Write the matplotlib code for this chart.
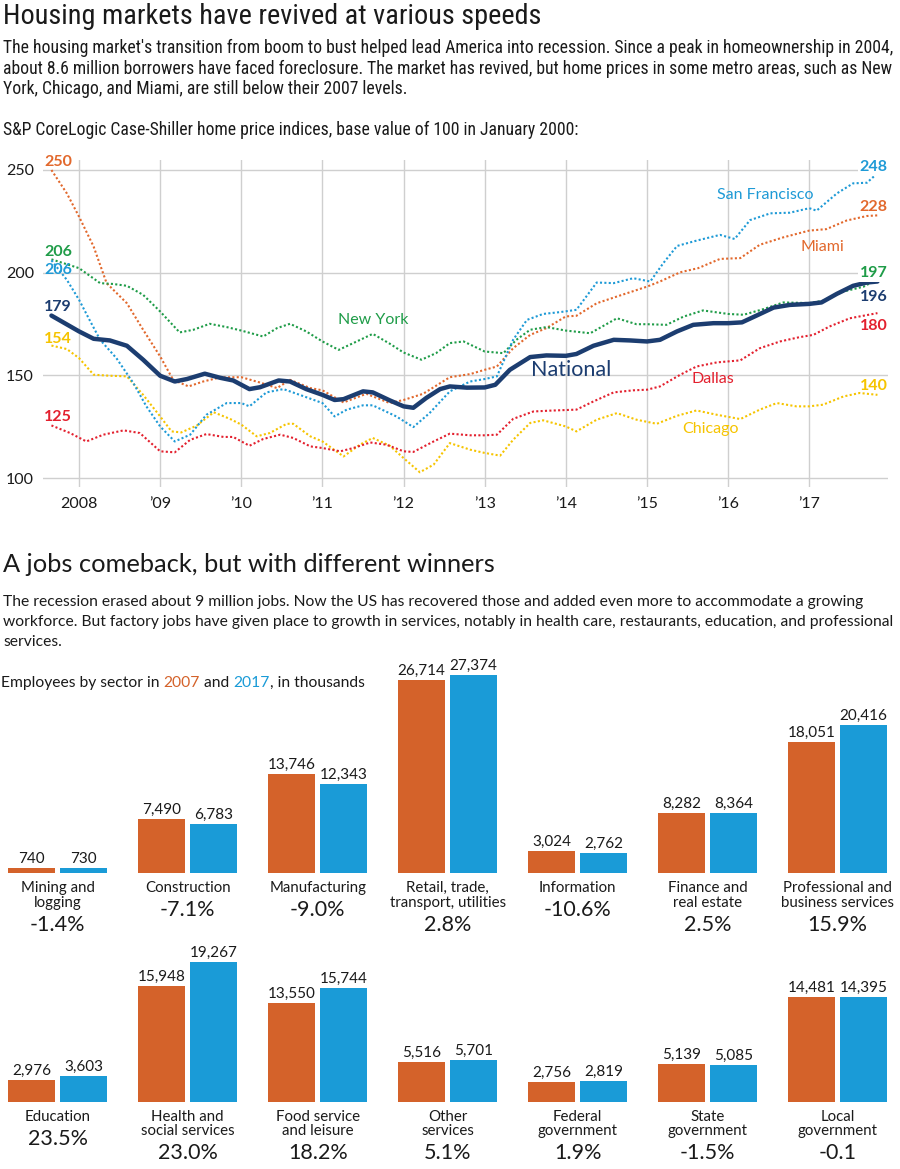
import numpy as np
import matplotlib
matplotlib.use('Agg')
import matplotlib.pyplot as plt
from matplotlib import font_manager

# ---------------- data: home price indices (year, index) ----------------
national = [(2007.66, 179.1), (2008.0, 171.4), (2008.18, 167.8), (2008.38, 167.0), (2008.59, 164.4),
            (2008.79, 157.6), (2009.0, 149.8), (2009.18, 147.0), (2009.33, 148.2), (2009.55, 150.8),
            (2009.74, 148.8), (2009.9, 147.5), (2010.1, 143.3), (2010.23, 144.2), (2010.46, 147.5),
            (2010.6, 147.0), (2010.8, 143.3), (2011.0, 140.5), (2011.15, 138.0), (2011.26, 138.4),
            (2011.5, 142.2), (2011.62, 141.7), (2011.83, 137.8), (2012.0, 134.9), (2012.12, 134.2),
            (2012.28, 139.0), (2012.45, 143.3), (2012.57, 144.6), (2012.78, 144.0), (2013.0, 144.1),
            (2013.13, 145.4), (2013.31, 152.7), (2013.56, 158.9), (2013.76, 159.7), (2014.0, 159.5),
            (2014.13, 160.4), (2014.34, 164.4), (2014.59, 167.3), (2014.79, 167.0), (2015.0, 166.5),
            (2015.16, 167.3), (2015.37, 171.4), (2015.57, 174.6), (2015.82, 175.4), (2016.0, 175.4),
            (2016.17, 175.8), (2016.35, 179.1), (2016.56, 183.0), (2016.76, 184.3), (2017.0, 184.8),
            (2017.15, 185.5), (2017.34, 189.7), (2017.54, 193.6), (2017.71, 195.2), (2017.84, 195.7)]

new_york = [(2007.66, 206.5), (2008.0, 202.2), (2008.26, 194.9), (2008.42, 194.5), (2008.59, 193.6),
            (2008.79, 189.2), (2009.0, 181.1), (2009.24, 170.9), (2009.41, 172.2), (2009.61, 175.1),
            (2009.82, 173.5), (2010.0, 171.8), (2010.27, 168.9), (2010.44, 173.0), (2010.6, 175.1),
            (2010.8, 171.4), (2011.0, 166.5), (2011.2, 162.4), (2011.38, 165.7), (2011.62, 170.2),
            (2011.83, 165.4), (2012.0, 161.1), (2012.22, 157.6), (2012.4, 160.8), (2012.57, 165.7),
            (2012.74, 166.5), (2013.0, 161.6), (2013.23, 160.8), (2013.39, 167.3), (2013.56, 172.2),
            (2013.76, 173.5), (2014.0, 171.8), (2014.3, 170.5), (2014.63, 177.8), (2014.87, 174.9),
            (2015.0, 174.9), (2015.24, 174.6), (2015.45, 178.6), (2015.69, 181.6), (2016.0, 179.9),
            (2016.19, 179.5), (2016.43, 182.2), (2016.68, 185.5), (2017.0, 185.2), (2017.17, 186.3),
            (2017.42, 190.8), (2017.67, 193.2), (2017.84, 196.8)]

san_francisco = [(2007.66, 206.0), (2007.85, 196.5), (2008.0, 186.8), (2008.14, 176.2), (2008.26, 167.3),
                 (2008.46, 158.4), (2008.67, 146.2), (2008.83, 134.9), (2009.0, 125.1), (2009.18, 117.8),
                 (2009.37, 121.1), (2009.57, 130.8), (2009.82, 136.5), (2010.0, 136.5), (2010.1, 134.9),
                 (2010.31, 141.7), (2010.52, 143.3), (2010.72, 140.5), (2011.0, 136.5), (2011.15, 130.0),
                 (2011.3, 133.3), (2011.5, 135.4), (2011.62, 135.4), (2011.91, 130.0), (2012.12, 124.8),
                 (2012.32, 131.6), (2012.57, 142.2), (2012.82, 147.0), (2013.0, 148.2), (2013.15, 149.5),
                 (2013.35, 167.3), (2013.52, 177.0), (2013.72, 179.9), (2013.93, 180.8), (2014.13, 181.9),
                 (2014.38, 195.2), (2014.59, 194.9), (2014.83, 197.3), (2015.04, 195.7), (2015.2, 204.6),
                 (2015.37, 213.0), (2015.61, 215.6), (2015.9, 218.4), (2016.08, 216.4), (2016.27, 225.6),
                 (2016.52, 228.9), (2016.76, 229.2), (2017.0, 231.4), (2017.09, 230.2), (2017.34, 238.6),
                 (2017.54, 243.5), (2017.71, 243.8), (2017.84, 248.4)]

miami = [(2007.66, 250.0), (2007.85, 238.6), (2008.0, 227.3), (2008.18, 212.7), (2008.34, 194.9),
         (2008.59, 185.1), (2008.79, 172.2), (2009.0, 159.2), (2009.16, 147.8), (2009.35, 144.6),
         (2009.53, 147.0), (2009.74, 149.0), (2010.0, 149.1), (2010.23, 146.5), (2010.44, 143.8),
         (2010.6, 147.8), (2010.85, 143.8), (2011.0, 142.7), (2011.26, 136.8), (2011.54, 141.0),
         (2011.83, 136.5), (2012.0, 138.0), (2012.24, 141.0), (2012.57, 149.1), (2012.82, 150.6),
         (2013.0, 152.7), (2013.15, 154.3), (2013.35, 163.2), (2013.56, 169.7), (2013.76, 173.0),
         (2014.0, 178.7), (2014.13, 179.0), (2014.38, 185.1), (2014.63, 188.4), (2015.0, 193.2),
         (2015.16, 195.7), (2015.41, 200.2), (2015.63, 202.2), (2015.9, 206.7), (2016.15, 207.1),
         (2016.39, 213.6), (2016.68, 217.2), (2017.0, 220.5), (2017.21, 221.2), (2017.46, 225.4),
         (2017.71, 227.6), (2017.84, 227.9)]

dallas = [(2007.66, 125.6), (2007.89, 121.9), (2008.09, 117.8), (2008.3, 121.1), (2008.55, 123.2),
          (2008.75, 121.9), (2009.0, 113.0), (2009.18, 112.5), (2009.37, 118.6), (2009.57, 121.4),
          (2009.78, 120.0), (2009.9, 120.0), (2010.1, 115.7), (2010.27, 119.0), (2010.48, 121.1),
          (2010.64, 119.5), (2010.85, 115.4), (2011.0, 114.6), (2011.22, 113.0), (2011.38, 114.6),
          (2011.59, 117.3), (2011.79, 116.2), (2012.0, 113.0), (2012.12, 112.7), (2012.37, 117.8),
          (2012.57, 121.6), (2012.82, 120.8), (2013.0, 120.8), (2013.15, 121.1), (2013.35, 128.8),
          (2013.6, 132.4), (2013.8, 132.8), (2014.13, 133.3), (2014.34, 137.3), (2014.59, 141.7),
          (2014.83, 142.7), (2015.0, 143.0), (2015.16, 144.6), (2015.41, 150.3), (2015.61, 154.3),
          (2015.86, 156.3), (2016.15, 157.3), (2016.39, 163.2), (2016.64, 166.5), (2016.88, 168.6),
          (2017.05, 169.7), (2017.25, 173.8), (2017.5, 177.8), (2017.84, 180.3)]

chicago = [(2007.66, 164.5), (2007.85, 162.8), (2008.0, 158.4), (2008.18, 150.3), (2008.38, 149.8),
           (2008.59, 149.5), (2008.79, 140.5), (2009.0, 130.0), (2009.14, 122.7), (2009.26, 122.2),
           (2009.45, 125.5), (2009.66, 132.0), (2009.86, 128.8), (2010.0, 126.0), (2010.19, 120.3),
           (2010.35, 121.9), (2010.56, 126.4), (2010.64, 126.4), (2010.85, 120.3), (2011.0, 117.8),
           (2011.26, 110.5), (2011.46, 116.2), (2011.62, 119.5), (2011.83, 115.7), (2012.0, 109.7),
           (2012.2, 102.8), (2012.37, 106.5), (2012.57, 117.0), (2012.82, 113.8), (2013.0, 112.2),
           (2013.19, 110.9), (2013.35, 118.6), (2013.56, 126.8), (2013.72, 128.1), (2014.0, 125.1),
           (2014.13, 122.7), (2014.38, 128.4), (2014.63, 131.6), (2014.87, 128.4), (2015.12, 126.4),
           (2015.37, 130.3), (2015.61, 132.9), (2015.86, 130.8), (2016.15, 128.7), (2016.39, 133.3),
           (2016.6, 136.5), (2016.84, 134.9), (2017.0, 134.9), (2017.17, 135.7), (2017.42, 139.7),
           (2017.62, 141.4), (2017.84, 140.5)]

year_ticks = [2008, 2009, 2010, 2011, 2012, 2013, 2014, 2015, 2016, 2017]
year_labels = ['2008', '’09', '’10', '’11', '’12', '’13', '’14', '’15', '’16', '’17']
index_ticks = [100, 150, 200, 250]

# ---------------- data: employees by sector (thousands) ----------------
sectors_top = ['Mining and\nlogging', 'Construction', 'Manufacturing', 'Retail, trade,\ntransport, utilities',
               'Information', 'Finance and\nreal estate', 'Professional and\nbusiness services']
jobs2007_top = [740, 7490, 13746, 26714, 3024, 8282, 18051]
jobs2017_top = [730, 6783, 12343, 27374, 2762, 8364, 20416]
change_top = ['-1.4%', '-7.1%', '-9.0%', '2.8%', '-10.6%', '2.5%', '15.9%']

sectors_bottom = ['Education', 'Health and\nsocial services', 'Food service\nand leisure', 'Other\nservices',
                  'Federal\ngovernment', 'State\ngovernment', 'Local\ngovernment']
jobs2007_bottom = [2976, 15948, 13550, 5516, 2756, 5139, 14481]
jobs2017_bottom = [3603, 19267, 15744, 5701, 2819, 5085, 14395]
change_bottom = ['23.5%', '23.0%', '18.2%', '5.1%', '1.9%', '-1.5%', '-0.1']

# ---------------- style ----------------
NAVY = '#1c3d70'
GREEN = '#1f9c48'
BLUE = '#1e9ad6'
ORANGE = '#e2682c'
RED = '#e3202e'
YELLOW = '#f6c400'
BAR_ORANGE = '#d4622a'
BAR_BLUE = '#1a9bd7'
INK = '#1a1a1a'

installed = {f.name for f in font_manager.fontManager.ttflist}
NARROW = next((n for n in ['Liberation Sans Narrow', 'Roboto Condensed', 'Open Sans Condensed']
               if n in installed), 'Liberation Sans')
plt.rcParams['font.family'] = ['Lato', 'DejaVu Sans']

W, H = 900, 1169
fig = plt.figure(figsize=(9, 11.69), dpi=100)
renderer = fig.canvas.get_renderer()


def fx(x):
    return x / W


def fy(y):
    return 1 - y / H


def fit(t, width):
    # scale a text so that it spans the given width in pixels
    w = t.get_window_extent(renderer).width
    t.set_fontsize(t.get_fontsize() * width / w)
    return t.get_fontsize()


def text_width(s, **kw):
    t = fig.text(0, 0, s + '|', **kw)
    bar = fig.text(0, 0, '|', **kw)
    w = t.get_window_extent(renderer).width - bar.get_window_extent(renderer).width
    t.remove()
    bar.remove()
    return w


# ---------------- top texts ----------------
t = fig.text(fx(3), fy(17), 'Housing markets have revived at various speeds', family=NARROW,
             fontsize=18, color=INK, va='center')
fit(t, 540)
body = ["The housing market's transition from boom to bust helped lead America into recession. "
        "Since a peak in homeownership in 2004,",
        "about 8.6 million borrowers have faced foreclosure. The market has revived, but home prices "
        "in some metro areas, such as New",
        "York, Chicago, and Miami, are still below their 2007 levels."]
t = fig.text(fx(3), fy(48), body[0], family=NARROW, fontsize=11, color=INK, va='center')
size = fit(t, 884)
for y, line in zip([69, 89], body[1:]):
    fig.text(fx(3), fy(y), line, family=NARROW, fontsize=size, color=INK, va='center')
fig.text(fx(3), fy(130), 'S&P CoreLogic Case-Shiller home price indices, base value of 100 in January 2000:',
         family=NARROW, fontsize=size, color=INK, va='center')

# ---------------- line chart ----------------
ax = fig.add_axes([fx(43), fy(487), (888 - 43) / W, (487 - 160) / H])
ax.set_xlim(2007.556, 2017.970)
ax.set_ylim(95.62, 254.87)
for s in ax.spines.values():
    s.set_visible(False)
ax.set_xticks(year_ticks)
ax.set_xticklabels(year_labels)
ax.set_yticks(index_ticks)
ax.tick_params(length=0, labelsize=11.5, colors=INK)
ax.tick_params(axis='y', pad=6.5)
ax.tick_params(axis='x', pad=7)
ax.grid(color='#cfcfcf', lw=1)
ax.set_axisbelow(True)

for series, color in [(chicago, YELLOW), (dallas, RED), (miami, ORANGE),
                      (new_york, GREEN), (san_francisco, BLUE)]:
    xs, ys = np.array(series).T
    ax.plot(xs, ys, color=color, lw=1.5, ls=(0, (1, 1.1)), zorder=3)
xs, ys = np.array(national).T
ax.plot(xs, ys, color=NAVY, lw=3.2, solid_capstyle='round', solid_joinstyle='round', zorder=4)

start_labels = [('250', 253.9, ORANGE), ('206', 210.2, GREEN), ('206', 201.3, BLUE),
                ('179', 183.3, NAVY), ('154', 167.7, YELLOW), ('125', 129.7, RED)]
for s, y, c in start_labels:
    ax.text(2007.57, y, s, color=c, fontsize=11.5, fontweight='bold', ha='left', va='center', zorder=5)

end_labels = [('248', 251.6, BLUE), ('228', 232.1, ORANGE), ('197', 199.7, GREEN),
              ('196', 188.3, NAVY), ('180', 174.2, RED), ('140', 144.8, YELLOW)]
for s, y, c in end_labels:
    ax.text(2017.965, y, s, color=c, fontsize=11.5, fontweight='bold', ha='right', va='center', zorder=5,
            bbox=dict(facecolor='white', edgecolor='none', pad=1.5) if s in ('248', '197') else None)

name_labels = [('New York', 2011.62, 177.0, GREEN, 11.5), ('San Francisco', 2016.455, 237.8, BLUE, 11.5),
               ('Miami', 2017.165, 212.5, ORANGE, 11.5), ('National', 2014.07, 152.6, NAVY, 15.5),
               ('Dallas', 2015.81, 148.2, RED, 11.5), ('Chicago', 2015.78, 123.9, YELLOW, 11.5)]
for s, x, y, c, fs in name_labels:
    ax.text(x, y, s, color=c, fontsize=fs, ha='center', va='center', zorder=5)

# ---------------- bottom texts ----------------
t = fig.text(fx(3), fy(565), 'A jobs comeback, but with different winners', fontsize=18, color=INK, va='center')
fit(t, 492)
body2 = ['The recession erased about 9 million jobs. Now the US has recovered those and added even more '
         'to accommodate a growing',
         'workforce. But factory jobs have given place to growth in services, notably in health care, '
         'restaurants, education, and professional',
         'services.']
t = fig.text(fx(3), fy(602), body2[0], fontsize=11, color=INK, va='center')
size2 = fit(t, 856)
for y, line in zip([622, 642], body2[1:]):
    fig.text(fx(3), fy(y), line, fontsize=size2, color=INK, va='center')

pieces = [('Employees by sector in ', INK), ('2007', BAR_ORANGE), (' and ', INK), ('2017', BAR_BLUE),
          (', in thousands', INK)]
x0 = 1
so_far = ''
for s, c in pieces:
    off = text_width(so_far, fontsize=size2) if so_far else 0
    fig.text(fx(x0 + off), fy(683), s, fontsize=size2, color=c, va='center')
    so_far += s

# ---------------- bar rows ----------------
PX_PER_K = 7.25 / 1000


def bar_row(base_px, top_px, sectors, v07, v17, changes):
    bx = fig.add_axes([0, fy(base_px), 1, (base_px - top_px) / H])
    bx.set_xlim(-57.7 / 130, (900 - 57.7) / 130)
    bx.set_ylim(0, (base_px - top_px) / PX_PER_K)
    bx.axis('off')
    x = np.arange(len(sectors))
    b1 = bx.bar(x - 0.2, v07, width=0.3615, color=BAR_ORANGE)
    b2 = bx.bar(x + 0.2, v17, width=0.3615, color=BAR_BLUE)
    for bars, vals in [(b1, v07), (b2, v17)]:
        for rect, v in zip(bars, vals):
            bx.annotate(f'{v:,}', (rect.get_x() + rect.get_width() / 2, v), xytext=(0, 1.5),
                        textcoords='offset points', ha='center', va='bottom', fontsize=11, color=INK,
                        annotation_clip=False)
    for i, (name, ch) in enumerate(zip(sectors, changes)):
        lines = name.split('\n')
        for k, line in enumerate(lines):
            bx.annotate(line, (i, 0), xytext=(0, -(15 + 14.4 * k) * 0.72), textcoords='offset points',
                        ha='center', va='center', fontsize=10.8, color=INK, annotation_clip=False)
        dy = 37 if len(lines) == 1 else 51.5
        bx.annotate(ch, (i, 0), xytext=(0, -dy * 0.72), textcoords='offset points',
                    ha='center', va='center', fontsize=15.5, color=INK, annotation_clip=False)


bar_row(873.3, 650, sectors_top, jobs2007_top, jobs2017_top, change_top)
bar_row(1101.7, 930, sectors_bottom, jobs2007_bottom, jobs2017_bottom, change_bottom)

fig.savefig('out.png', dpi=100)
